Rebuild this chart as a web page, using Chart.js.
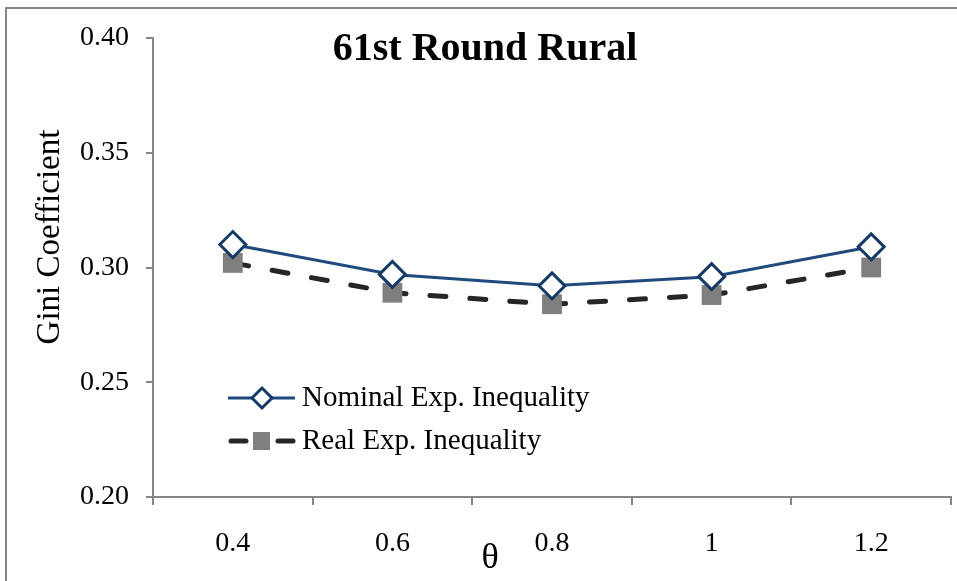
<!DOCTYPE html>
<html>
<head>
<meta charset="utf-8">
<script src="https://cdn.jsdelivr.net/npm/chart.js@4/dist/chart.umd.min.js"></script>
<style>
  html, body { margin: 0; padding: 0; background: #fff; }
  #wrap { width: 957px; height: 581px; position: relative; }
</style>
</head>
<body>
<div id="wrap"><canvas id="chart" width="957" height="581"></canvas></div>
<script>
const thetaLabels = ['0.4', '0.6', '0.8', '1', '1.2'];
const nominalIneq = [0.310, 0.297, 0.292, 0.296, 0.309];
const realIneq = [0.302, 0.289, 0.284, 0.288, 0.300];
const yTicks = [0.20, 0.25, 0.30, 0.35, 0.40];

const SERIF = '"Liberation Serif", "DejaVu Serif", serif';
const AXIS_GREY = '#868686';

// outer frame (only top and left edges are in view)
const framePlugin = {
    id: 'frame',
    beforeDraw(chart) {
        const ctx = chart.ctx;
        ctx.save();
        ctx.strokeStyle = AXIS_GREY;
        ctx.lineWidth = 2;
        ctx.beginPath();
        ctx.moveTo(957, 8);
        ctx.lineTo(6, 8);
        ctx.lineTo(6, 581);
        ctx.stroke();
        ctx.restore();
    }
};

// title, axis titles and legend are placed freely in the original
const overlayPlugin = {
    id: 'overlay',
    afterDraw(chart) {
        const ctx = chart.ctx;
        ctx.save();
        ctx.fillStyle = '#000';
        ctx.textAlign = 'center';
        ctx.textBaseline = 'middle';
        ctx.font = 'bold 40px ' + SERIF;
        ctx.fillText('61st Round Rural', 485, 50);
        ctx.font = '36px ' + SERIF;
        ctx.fillText('θ', 490, 559);

        ctx.save();
        ctx.translate(50, 237);
        ctx.rotate(-Math.PI / 2);
        ctx.font = '33px ' + SERIF;
        ctx.fillText('Gini Coefficient', 0, 0);
        ctx.restore();

        const rows = [398, 441];
        chart.data.datasets.forEach((ds, i) => {
            const y = rows[i];
            ctx.save();
            ctx.strokeStyle = ds.borderColor;
            ctx.lineWidth = ds.borderWidth;
            ctx.lineCap = ds.borderCapStyle || 'butt';
            ctx.beginPath();
            if (ds.borderDash) {
                ctx.moveTo(231, y); ctx.lineTo(246, y);
                ctx.moveTo(278, y); ctx.lineTo(293, y);
            } else {
                ctx.moveTo(228, y); ctx.lineTo(295, y);
            }
            ctx.stroke();

            ctx.fillStyle = ds.pointBackgroundColor;
            ctx.strokeStyle = ds.pointBorderColor;
            ctx.lineWidth = ds.pointBorderWidth;
            ctx.beginPath();
            if (ds.pointStyle === 'rectRot') {
                const r = 10;
                ctx.moveTo(262, y - r); ctx.lineTo(262 + r, y);
                ctx.lineTo(262, y + r); ctx.lineTo(262 - r, y);
                ctx.closePath();
                ctx.fill(); ctx.stroke();
            } else {
                ctx.rect(253, y - 9, 17, 18);
                ctx.fill();
            }
            ctx.restore();

            ctx.fillStyle = '#000';
            ctx.font = '29px ' + SERIF;
            ctx.textAlign = 'left';
            ctx.textBaseline = 'middle';
            ctx.fillText(ds.label, 302, y);
        });
        ctx.restore();
    }
};

new Chart(document.getElementById('chart'), {
    type: 'line',
    data: {
        labels: thetaLabels,
        datasets: [
            {
                label: 'Nominal Exp. Inequality',
                data: nominalIneq,
                borderColor: '#1f4a7e',
                borderWidth: 3,
                pointStyle: 'rectRot',
                pointRadius: 13,
                pointBorderWidth: 3,
                pointBackgroundColor: '#ffffff',
                pointBorderColor: '#163a66',
                tension: 0
            },
            {
                label: 'Real Exp. Inequality',
                data: realIneq,
                borderColor: '#262626',
                borderWidth: 5,
                borderDash: [16, 24],
                borderCapStyle: 'round',
                pointStyle: 'rect',
                pointRadius: 14,
                pointBorderWidth: 0,
                pointBackgroundColor: '#7f7f7f',
                pointBorderColor: '#7f7f7f',
                tension: 0
            }
        ]
    },
    options: {
        responsive: false,
        animation: false,
        layout: { autoPadding: false, padding: { left: 0, top: 38, right: 6, bottom: 0 } },
        plugins: {
            legend: { display: false },
            title: { display: false },
            tooltip: { enabled: false }
        },
        scales: {
            x: {
                offset: true,
                afterFit(s) { s.height = 84; },
                grid: { offset: true, drawOnChartArea: false, drawTicks: true, tickLength: 8, color: AXIS_GREY, lineWidth: 2 },
                border: { color: AXIS_GREY, width: 2 },
                ticks: { color: '#000', padding: 22, font: { family: SERIF, size: 28 } }
            },
            y: {
                min: 0.2,
                max: 0.4,
                afterFit(s) { s.width = 153; },
                afterBuildTicks(s) { s.ticks = yTicks.map(v => ({ value: v })); },
                grid: { drawOnChartArea: false, drawTicks: true, tickLength: 7, color: AXIS_GREY, lineWidth: 2 },
                border: { color: AXIS_GREY, width: 2 },
                ticks: { color: '#000', padding: 17, font: { family: SERIF, size: 28 }, callback: v => v.toFixed(2) }
            }
        }
    },
    plugins: [framePlugin, overlayPlugin]
});
</script>
</body>
</html>
